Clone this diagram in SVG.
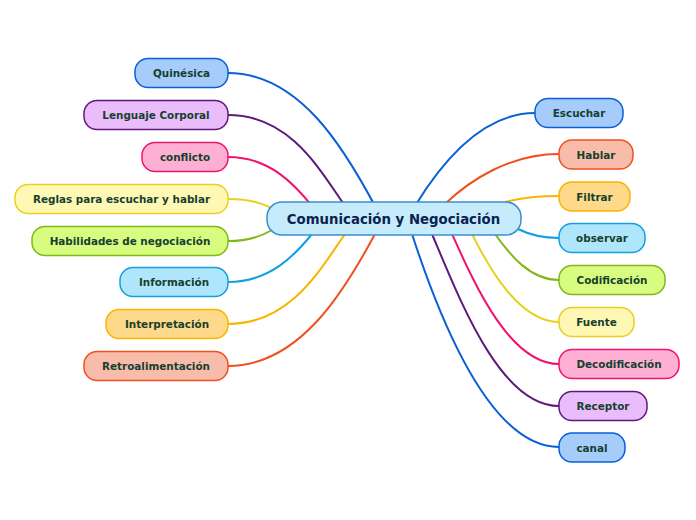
<svg xmlns="http://www.w3.org/2000/svg" width="696" height="520" viewBox="0 0 696 520">
<style>
text{font-family:"DejaVu Sans",Verdana,sans-serif;font-weight:bold;font-size:10.4px;fill:#15402f;text-anchor:middle;dominant-baseline:central}
.c{fill:none;stroke-width:2}
.n{stroke-width:1.5}
.main text{font-size:13.3px;fill:#0c2150}
</style>
<rect width="696" height="520" fill="#fff"/>
<g id="connectors">
<path class="c" stroke="#0a5fd6" d="M228,73 C300,73 345,150 375,206"/>
<path class="c" stroke="#5e1a7a" d="M228,115 C290,115 320,170 345,206"/>
<path class="c" stroke="#f0126e" d="M228,157 C270,157 295,185 312,206"/>
<path class="c" stroke="#e8d020" d="M228,199 C250,199 262,203 272,208"/>
<path class="c" stroke="#80b818" d="M228,241 C250,241 262,236 272,230"/>
<path class="c" stroke="#10a0e0" d="M228,282 C270,282 295,255 312,234"/>
<path class="c" stroke="#f8b400" d="M228,324 C290,324 320,270 345,234"/>
<path class="c" stroke="#f05020" d="M228,366 C300,366 345,290 375,234"/>
<path class="c" stroke="#0a5fd6" d="M535,113 C480,113 440,165 415,206"/>
<path class="c" stroke="#f05020" d="M559,154 C510,154 470,180 445,204"/>
<path class="c" stroke="#f8b400" d="M559,196 C540,196 520,198 505,202"/>
<path class="c" stroke="#10a0e0" d="M559,238 C540,238 528,234 518,229"/>
<path class="c" stroke="#80b818" d="M559,280 C530,280 510,255 495,234"/>
<path class="c" stroke="#e8d020" d="M559,322 C520,322 490,270 472,234"/>
<path class="c" stroke="#f0126e" d="M559,364 C510,364 475,285 452,234"/>
<path class="c" stroke="#5e1a7a" d="M559,406 C500,406 460,300 432,234"/>
<path class="c" stroke="#0a5fd6" d="M559,447 C490,447 440,320 412,234"/>
</g>
<g id="center" class="main"><rect class="n" x="267" y="202" width="254" height="33" rx="15" fill="#c6ecfc" stroke="#3a8fd0"/><text x="393.5" y="219">Comunicación y Negociación</text></g>
<g id="quinesica"><rect class="n" x="135" y="58.5" width="93" height="29" rx="13" fill="#a6ccfc" stroke="#0a5fd6"/><text x="181.5" y="73">Quinésica</text></g>
<g id="lenguaje"><rect class="n" x="84" y="100.5" width="144" height="29" rx="13" fill="#eabcfc" stroke="#5e1a7a"/><text x="156" y="115">Lenguaje Corporal</text></g>
<g id="conflicto"><rect class="n" x="142" y="142.5" width="86" height="29" rx="13" fill="#fdb0d4" stroke="#f0126e"/><text x="185" y="157">conflicto</text></g>
<g id="reglas"><rect class="n" x="15" y="184.5" width="213" height="29" rx="13" fill="#fff8b4" stroke="#e8d020"/><text x="121.5" y="199">Reglas para escuchar y hablar</text></g>
<g id="habilidades"><rect class="n" x="32" y="226.5" width="196" height="29" rx="13" fill="#d8fc80" stroke="#80b818"/><text x="130" y="241">Habilidades de negociación</text></g>
<g id="informacion"><rect class="n" x="120" y="267.5" width="108" height="29" rx="13" fill="#b0e6fc" stroke="#10a0e0"/><text x="174" y="282">Información</text></g>
<g id="interpretacion"><rect class="n" x="106" y="309.5" width="122" height="29" rx="13" fill="#fed98a" stroke="#f8b400"/><text x="167" y="324">Interpretación</text></g>
<g id="retroalimentacion"><rect class="n" x="84" y="351.5" width="144" height="29" rx="13" fill="#f8bcaa" stroke="#f05020"/><text x="156" y="366">Retroalimentación</text></g>
<g id="escuchar"><rect class="n" x="535" y="98.5" width="88" height="29" rx="13" fill="#a6ccfc" stroke="#0a5fd6"/><text x="579" y="113">Escuchar</text></g>
<g id="hablar"><rect class="n" x="559" y="140" width="74" height="29" rx="13" fill="#f8bcaa" stroke="#f05020"/><text x="596" y="154.5">Hablar</text></g>
<g id="filtrar"><rect class="n" x="559" y="182" width="71" height="29" rx="13" fill="#fed98a" stroke="#f8b400"/><text x="594.5" y="196.5">Filtrar</text></g>
<g id="observar"><rect class="n" x="559" y="223.5" width="86" height="29" rx="13" fill="#b0e6fc" stroke="#10a0e0"/><text x="602" y="238">observar</text></g>
<g id="codificacion"><rect class="n" x="559" y="265.5" width="106" height="29" rx="13" fill="#d8fc80" stroke="#80b818"/><text x="612" y="280">Codificación</text></g>
<g id="fuente"><rect class="n" x="559" y="307.5" width="75" height="29" rx="13" fill="#fff8b4" stroke="#e8d020"/><text x="596.5" y="322">Fuente</text></g>
<g id="decodificacion"><rect class="n" x="559" y="349.5" width="120" height="29" rx="13" fill="#fdb0d4" stroke="#f0126e"/><text x="619" y="364">Decodificación</text></g>
<g id="receptor"><rect class="n" x="559" y="391.5" width="88" height="29" rx="13" fill="#eabcfc" stroke="#5e1a7a"/><text x="603" y="406">Receptor</text></g>
<g id="canal"><rect class="n" x="559" y="433" width="66" height="29" rx="13" fill="#a6ccfc" stroke="#0a5fd6"/><text x="592" y="447.5">canal</text></g>
</svg>
